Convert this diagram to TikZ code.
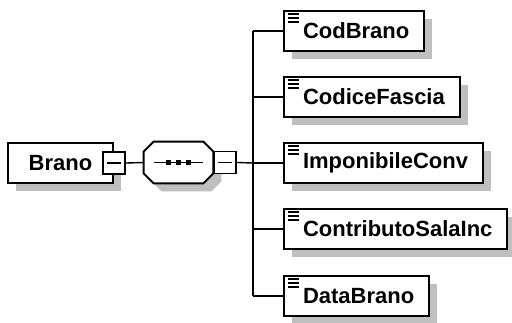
\documentclass[tikz,border=0pt]{standalone}
\usepackage{fontspec}
\setmainfont{Liberation Sans}
\usetikzlibrary{shadows,calc}

\begin{document}
\begin{tikzpicture}[
    x=0.5pt, y=-0.5pt,
    font=\fontsize{11}{12}\selectfont\bfseries,
    conn/.style={line width=0.7pt, black},
    shade/.style={drop shadow={shadow xshift=4pt, shadow yshift=-4pt, fill=black!25, opacity=1}},
    box/.style={draw=black, line width=1pt, fill=white, rectangle, minimum height=20pt, inner xsep=7.5pt, inner ysep=0pt, shade},
    elem/.style={box, anchor=west,
        path picture={\foreach \k in {0,4,8} \draw[line width=1pt] ([shift={(4,3+\k)}]path picture bounding box.north west) -- ++(11,0);}},
    minusbox/.style={draw=black, line width=0.9pt, fill=white, minimum size=11pt, inner sep=0pt,
        path picture={\draw[line width=0.8pt] ([xshift=2pt]path picture bounding box.west) -- ([xshift=-2pt]path picture bounding box.east);}},
    seqarea/.style={minimum width=34.5pt, minimum height=20.5pt, inner sep=0pt},
    seqline/.style={draw=black, line width=1pt, fill=white, shade}
]
    \useasboundingbox (0,0) rectangle (512,322);

    % Root element with its collapse box
    \node[box, minimum width=52.5pt] (brano) at (60.5,163) {Brano\hspace{2pt}};
    \node[minusbox] (branominus) at (brano.east) {};

    % Sequence compositor (octagon)
    \node[seqarea] (seq) at (178.5,162.5) {};
    \path[seqline] ([xshift=5pt]seq.north west) -- ([xshift=-5pt]seq.north east)
        -- ([yshift=-5pt]seq.north east) -- ([yshift=5pt]seq.south east)
        -- ([xshift=-5pt]seq.south east) -- ([xshift=5pt]seq.south west)
        -- ([yshift=5pt]seq.south west) -- ([yshift=-5pt]seq.north west) -- cycle;
    \node[minusbox, anchor=west] (seqminus) at (seq.east) {};
    \draw[line width=0.7pt] ([xshift=-12.25pt]seq.center) -- ([xshift=12.25pt]seq.center);
    \foreach \dx in {-10,0,10}
        \fill ([xshift=\dx*0.5pt]seq.center) +(-2.5,-2.5) rectangle +(2.5,2.5);

    \draw[conn] (branominus.east) -- (seq.west);
    \coordinate (fork) at (253,163);
    \draw[conn] (seqminus.east) -- (fork);

    % Child elements
    \foreach \name/\txt/\ypos in {cod/CodBrano/31, fascia/CodiceFascia/97, imp/ImponibileConv/163,
                                  contrib/ContributoSalaInc/229, data/DataBrano/296} {
        \node[elem] (\name) at (283,\ypos) {\hspace{2pt}\txt};
        \draw[conn] (fork |- \name.west) -- (\name.west);
    }
    \draw[conn] (fork |- cod.west) -- (fork |- data.west);
\end{tikzpicture}
\end{document}
